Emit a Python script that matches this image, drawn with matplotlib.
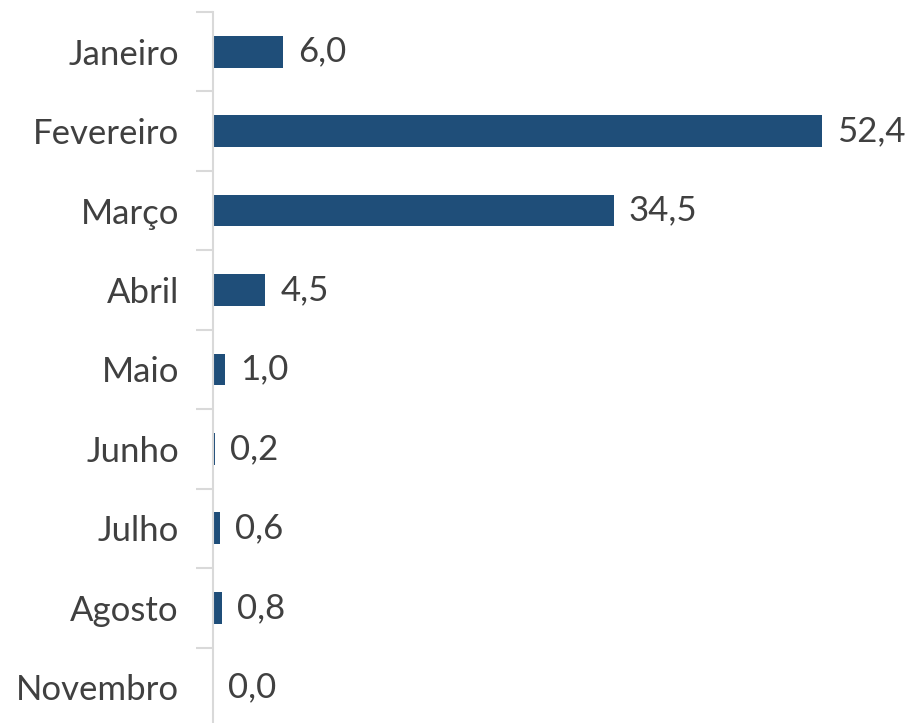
import numpy as np
import matplotlib.pyplot as plt

months = ['Janeiro', 'Fevereiro', 'Março', 'Abril', 'Maio', 'Junho',
          'Julho', 'Agosto', 'Novembro']
values = [6.0, 52.4, 34.5, 4.5, 1.0, 0.2, 0.6, 0.8, 0.0]

plt.rcParams['font.family'] = ['Lato', 'DejaVu Sans']

fig = plt.figure(figsize=(9.1, 7.23), dpi=100)
ax = fig.add_axes([0.234, -0.0055, 0.766, 0.989])

y = np.arange(len(months))
ax.barh(y, values, height=0.4, color='#1f4e79')
for yi, v in zip(y, values):
    ax.text(v + 1.3, yi, f'{v:.1f}'.replace('.', ','), va='center', ha='left',
            fontsize=25, color='#404040')

ax.set_xlim(0, 60)
ax.set_ylim(len(months) - 0.5, -0.5)
ax.set_yticks(y)
ax.set_yticklabels(months, fontsize=25, color='#404040')
ax.set_yticks(np.arange(-0.5, len(months)), minor=True)
ax.tick_params(axis='y', which='major', length=0, pad=24.5)
ax.tick_params(axis='y', which='minor', length=12, width=1.5, color='#d9d9d9')
ax.set_xticks([])
for s in ['top', 'right', 'bottom']:
    ax.spines[s].set_visible(False)
ax.spines['left'].set_color('#d9d9d9')
ax.spines['left'].set_linewidth(1.5)

fig.savefig('out.png', dpi=100)
